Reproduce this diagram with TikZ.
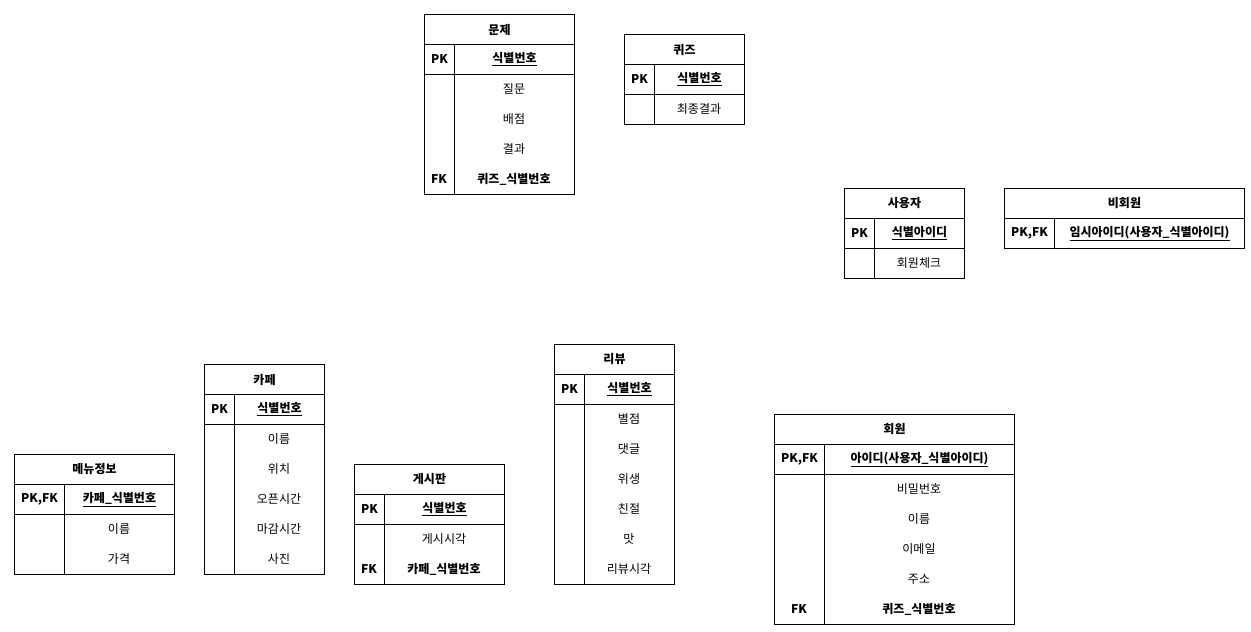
\documentclass[tikz,border=0pt]{standalone}
\usepackage{fontspec}
\setmainfont{Noto Sans CJK KR}
\usetikzlibrary{positioning}

\begin{document}
\begin{tikzpicture}[
  x=1pt,y=-1pt,
  line width=1pt,
  every node/.style={font=\fontsize{12}{14}\selectfont,inner sep=0pt},
  head cell/.style={rectangle,draw,anchor=north west,minimum height=30pt,font=\fontsize{12}{14}\selectfont\bfseries},
  key cell/.style={rectangle,draw,anchor=north west,minimum height=30pt,font=\fontsize{12}{14}\selectfont\bfseries},
  body cell/.style={rectangle,draw,anchor=north west},
  attr/.style={anchor=center},
  fk attr/.style={anchor=center,font=\fontsize{12}{14}\selectfont\bfseries},
]
\useasboundingbox (0,0) rectangle (1251,632);
% 문제
\node[head cell,minimum width=150pt] (prob) at (424,14) {문제};
\node[key cell,minimum width=30pt] (prob-pk) at (424,44) {PK};
\node[key cell,minimum width=120pt] (prob-id) at (454,44) {\underline{식별번호}};
\node[body cell,minimum width=30pt,minimum height=120pt] (prob-kcol) at (424,74) {};
\node[body cell,minimum width=120pt,minimum height=120pt] (prob-vcol) at (454,74) {};
\node[attr] (prob-a1) at (514,89) {질문};
\node[attr] (prob-a2) at (514,119) {배점};
\node[attr] (prob-a3) at (514,149) {결과};
\node[fk attr] (prob-fk) at (439,179) {FK};
\node[fk attr] (prob-a4) at (514,179) {퀴즈\_식별번호};
% 퀴즈
\node[head cell,minimum width=120pt] (quiz) at (624,34) {퀴즈};
\node[key cell,minimum width=30pt] (quiz-pk) at (624,64) {PK};
\node[key cell,minimum width=90pt] (quiz-id) at (654,64) {\underline{식별번호}};
\node[body cell,minimum width=30pt,minimum height=30pt] (quiz-kcol) at (624,94) {};
\node[body cell,minimum width=90pt,minimum height=30pt] (quiz-vcol) at (654,94) {};
\node[attr] (quiz-a1) at (699,109) {최종결과};
% 사용자
\node[head cell,minimum width=120pt] (user) at (844,188) {사용자};
\node[key cell,minimum width=30pt] (user-pk) at (844,218) {PK};
\node[key cell,minimum width=90pt] (user-id) at (874,218) {\underline{식별아이디}};
\node[body cell,minimum width=30pt,minimum height=30pt] (user-kcol) at (844,248) {};
\node[body cell,minimum width=90pt,minimum height=30pt] (user-vcol) at (874,248) {};
\node[attr] (user-a1) at (919,263) {회원체크};
% 비회원
\node[head cell,minimum width=240pt] (guest) at (1004,188) {비회원};
\node[key cell,minimum width=50pt] (guest-pk) at (1004,218) {PK,FK};
\node[key cell,minimum width=190pt] (guest-id) at (1054,218) {\underline{임시아이디(사용자\_식별아이디)}};
% 메뉴정보
\node[head cell,minimum width=160pt] (menu) at (14,454) {메뉴정보};
\node[key cell,minimum width=50pt] (menu-pk) at (14,484) {PK,FK};
\node[key cell,minimum width=110pt] (menu-id) at (64,484) {\underline{카페\_식별번호}};
\node[body cell,minimum width=50pt,minimum height=60pt] (menu-kcol) at (14,514) {};
\node[body cell,minimum width=110pt,minimum height=60pt] (menu-vcol) at (64,514) {};
\node[attr] (menu-a1) at (119,529) {이름};
\node[attr] (menu-a2) at (119,559) {가격};
% 카페
\node[head cell,minimum width=120pt] (cafe) at (204,364) {카페};
\node[key cell,minimum width=30pt] (cafe-pk) at (204,394) {PK};
\node[key cell,minimum width=90pt] (cafe-id) at (234,394) {\underline{식별번호}};
\node[body cell,minimum width=30pt,minimum height=150pt] (cafe-kcol) at (204,424) {};
\node[body cell,minimum width=90pt,minimum height=150pt] (cafe-vcol) at (234,424) {};
\node[attr] (cafe-a1) at (279,439) {이름};
\node[attr] (cafe-a2) at (279,469) {위치};
\node[attr] (cafe-a3) at (279,499) {오픈시간};
\node[attr] (cafe-a4) at (279,529) {마감시간};
\node[attr] (cafe-a5) at (279,559) {사진};
% 게시판
\node[head cell,minimum width=150pt] (board) at (354,464) {게시판};
\node[key cell,minimum width=30pt] (board-pk) at (354,494) {PK};
\node[key cell,minimum width=120pt] (board-id) at (384,494) {\underline{식별번호}};
\node[body cell,minimum width=30pt,minimum height=60pt] (board-kcol) at (354,524) {};
\node[body cell,minimum width=120pt,minimum height=60pt] (board-vcol) at (384,524) {};
\node[attr] (board-a1) at (444,539) {게시시각};
\node[fk attr] (board-fk) at (369,569) {FK};
\node[fk attr] (board-a2) at (444,569) {카페\_식별번호};
% 리뷰
\node[head cell,minimum width=120pt] (review) at (554,344) {리뷰};
\node[key cell,minimum width=30pt] (review-pk) at (554,374) {PK};
\node[key cell,minimum width=90pt] (review-id) at (584,374) {\underline{식별번호}};
\node[body cell,minimum width=30pt,minimum height=180pt] (review-kcol) at (554,404) {};
\node[body cell,minimum width=90pt,minimum height=180pt] (review-vcol) at (584,404) {};
\node[attr] (review-a1) at (629,419) {별점};
\node[attr] (review-a2) at (629,449) {댓글};
\node[attr] (review-a3) at (629,479) {위생};
\node[attr] (review-a4) at (629,509) {친절};
\node[attr] (review-a5) at (629,539) {맛};
\node[attr] (review-a6) at (629,569) {리뷰시각};
% 회원
\node[head cell,minimum width=240pt] (member) at (774,414) {회원};
\node[key cell,minimum width=50pt] (member-pk) at (774,444) {PK,FK};
\node[key cell,minimum width=190pt] (member-id) at (824,444) {\underline{아이디(사용자\_식별아이디)}};
\node[body cell,minimum width=50pt,minimum height=150pt] (member-kcol) at (774,474) {};
\node[body cell,minimum width=190pt,minimum height=150pt] (member-vcol) at (824,474) {};
\node[attr] (member-a1) at (919,489) {비밀번호};
\node[attr] (member-a2) at (919,519) {이름};
\node[attr] (member-a3) at (919,549) {이메일};
\node[attr] (member-a4) at (919,579) {주소};
\node[fk attr] (member-fk) at (799,609) {FK};
\node[fk attr] (member-a5) at (919,609) {퀴즈\_식별번호};
\end{tikzpicture}
\end{document}
